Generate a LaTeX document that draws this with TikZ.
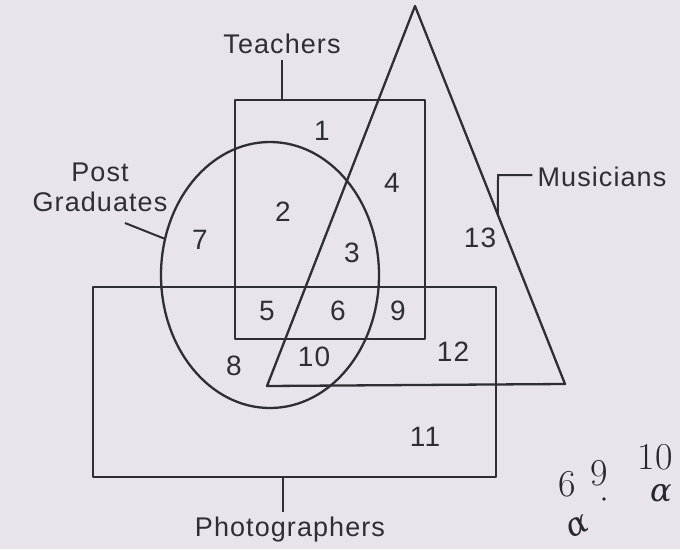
\documentclass[tikz,border=0pt]{standalone}
\usepackage{fontspec}
\setmainfont{Liberation Sans}[LetterSpace=4]
\newfontfamily\handfont{Latin Modern Roman}
\newfontfamily\greekhand{DejaVu Serif}
\usetikzlibrary{shapes.geometric,calc}
\definecolor{ink}{RGB}{48,46,52}
\definecolor{paper}{RGB}{233,227,235}
\definecolor{pencil}{RGB}{40,38,46}
\tikzset{
  outline/.style={draw=ink, line width=2.3pt, line join=round},
  lead/.style={draw=ink, line width=2pt},
  lbl/.style={font=\fontsize{27}{30}\selectfont, text=ink, inner sep=0pt, align=center},
  num/.style={font=\fontsize{28}{30}\selectfont, text=ink, inner sep=0pt},
  hand/.style={font=\handfont\fontsize{38}{40}\selectfont, text=pencil, inner sep=0pt},
  handgreek/.style={font=\greekhand\itshape\fontsize{32}{34}\selectfont, text=pencil, inner sep=0pt}
}
\begin{document}
\begin{tikzpicture}[x=1pt,y=-1pt]
\fill[paper] (0,0) rectangle (680,549);
\useasboundingbox (0,0) rectangle (680,549);

% sets
\node[outline, rectangle, minimum width=190pt, minimum height=239pt, inner sep=0pt] (T) at (330,219.5) {};
\node[outline, rectangle, minimum width=403pt, minimum height=190pt, inner sep=0pt] (P) at (294.5,382) {};
\node[outline, ellipse, minimum width=218pt, minimum height=266pt, inner sep=0pt] (PG) at (270,275) {};
\coordinate (apex) at (415,6);
\coordinate (bl) at (267,386);
\coordinate (br) at (565,384);
\draw[outline] (apex) -- (bl) -- (br) -- cycle;

% region numbers
\node[num] (n1) at (322,131) {1};
\node[num] (n2) at (283,212) {2};
\node[num] (n3) at (352,253) {3};
\node[num] (n4) at (392,183) {4};
\node[num] (n5) at (267,311) {5};
\node[num] (n6) at (338,311) {6};
\node[num] (n7) at (200,240) {7};
\node[num] (n8) at (234,366) {8};
\node[num] (n9) at (398,311) {9};
\node[num] (n10) at (314,357) {10};
\node[num] (n11) at (425,437) {11};
\node[num] (n12) at (453,352) {12};
\node[num] (n13) at (480,238) {13};

% labels and leaders
\node[lbl] (tl) at (282,44) {Teachers};
\draw[lead] ([yshift=-6pt]tl.south) -- (tl.south |- T.north);

\node[lbl] (pgl) at (100,187) {Post\\Graduates};
\coordinate (pgc) at (125,223);
\draw[lead] (pgc) -- (PG.161);

\node[lbl] (ml) at (602,177) {Musicians};
\coordinate (mk) at (498,175);
\coordinate (me) at ($(apex)!0.553!(br)$);
\draw[lead] ([xshift=-5pt]ml.west |- mk) -- (mk) -- (me);

\node[lbl] (phl) at (290,530) {Photographers};
\draw[lead] ([xshift=-7pt,yshift=5pt]phl.north) -- ([xshift=-7pt]phl.north |- P.south);

% handwritten notes
\node[hand] (h6) at (567,484) {6};
\node[hand] (h9) at (599,473) {9};
\fill[pencil] (604,499) circle (1.8pt);
\node[hand] (h10) at (655,457) {10};
\node[handgreek] (ha) at (661,493) {α};
\node[handgreek, rotate=25] (hb) at (578,526) {α};
\end{tikzpicture}
\end{document}
